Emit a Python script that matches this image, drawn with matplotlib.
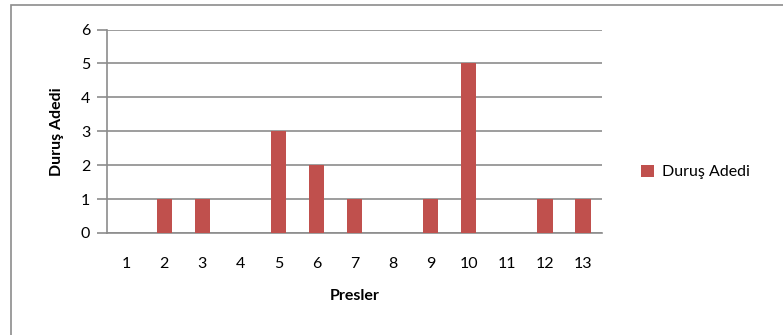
import matplotlib.pyplot as plt
from matplotlib.patches import Rectangle

presler = ['1', '2', '3', '4', '5', '6', '7', '8', '9', '10', '11', '12', '13']
durus_adedi = [0, 1, 1, 0, 3, 2, 1, 0, 1, 5, 0, 1, 1]

plt.rcParams['font.family'] = ['Lato', 'DejaVu Sans']

W, H = 783, 335
fig = plt.figure(figsize=(W / 100, H / 100), dpi=100)

# outer chart border
fig.patches.append(Rectangle((11 / W, -0.1), 1.0, (H - 5) / H + 0.1,
                             transform=fig.transFigure, fill=False,
                             edgecolor='#8c8c8c', linewidth=1.2))

left, right, top, bottom = 107, 602, 29.5, 233
ax = fig.add_axes([left / W, 1 - bottom / H, (right - left) / W, (bottom - top) / H])

x = range(len(presler))
bars = ax.bar(x, durus_adedi, width=0.4, color='#C0504D', zorder=3, label='Duruş Adedi')

ax.set_xlim(-0.5, len(presler) - 0.5)
ax.set_ylim(0, 6)
ax.set_yticks(range(7))
ax.set_xticks(list(x))
ax.set_xticklabels(presler)
ax.grid(axis='y', color='#8c8c8c', linewidth=1.2, zorder=0)
ax.tick_params(axis='y', length=7, width=1.2, color='#8c8c8c', labelsize=11.5, pad=5)
ax.tick_params(axis='x', length=0, labelsize=11.5, pad=17)
for s in ['top', 'right']:
    ax.spines[s].set_visible(False)
for s in ['left', 'bottom']:
    ax.spines[s].set_color('#8c8c8c')
    ax.spines[s].set_linewidth(1.2)

ax.set_ylabel('Duruş Adedi', fontsize=11.5, fontweight='bold', labelpad=12)
ax.set_xlabel('Presler', fontsize=11.5, fontweight='bold', labelpad=13)

ax.legend(loc='center left', bbox_to_anchor=(1.05, 0.3), frameon=False,
          fontsize=11.5, handlelength=0.8, handleheight=0.8, handletextpad=0.5)

fig.savefig('out.png', dpi=100, facecolor='white')
